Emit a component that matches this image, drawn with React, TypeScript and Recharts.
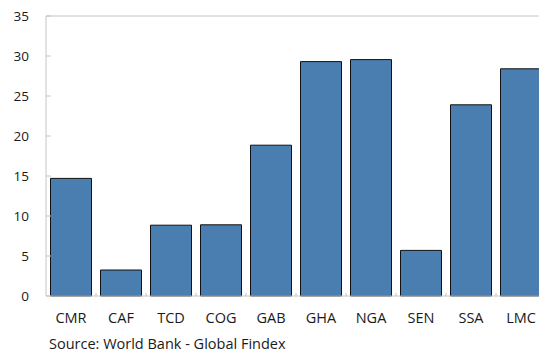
import React from 'react';
import { BarChart, Bar, XAxis, YAxis, ReferenceLine } from 'recharts';

const countries = ['CMR', 'CAF', 'TCD', 'COG', 'GAB', 'GHA', 'NGA', 'SEN', 'SSA', 'LMC'];
const shares = [14.7, 3.25, 8.85, 8.9, 18.85, 29.3, 29.55, 5.7, 23.9, 28.4];
const yTicks = [0, 5, 10, 15, 20, 25, 30, 35];

const data = countries.map((name, i) => ({ name, value: shares[i] }));

const FONT = '"Open Sans", sans-serif';
const AXIS_GRAY = '#c4c4c4';

// category label plus a short inward tick at the right edge of each band
const CountryTick = (props: any) => {
  const { x, y, payload } = props;
  const half = payload && payload.offset ? payload.offset : 25;
  return (
    <g>
      <line x1={x + half} x2={x + half} y1={y} y2={y - 3} stroke={AXIS_GRAY} />
      <text
        x={x}
        y={y + 23}
        textAnchor="middle"
        dominantBaseline="middle"
        fontSize={14.5}
        fontFamily={FONT}
        fill="#1a1a1a"
      >
        {payload.value}
      </text>
    </g>
  );
};

const App = () => {
  return (
    <div
      style={{
        position: 'fixed',
        left: 0,
        top: 0,
        width: 539,
        height: 353,
        overflow: 'hidden',
        background: '#fff',
      }}
    >
      <BarChart
        width={548}
        height={330}
        data={data}
        margin={{ top: 16, right: 2, left: 0, bottom: 0 }}
        barCategoryGap={4.5}
      >
        <XAxis
          dataKey="name"
          height={34}
          stroke={AXIS_GRAY}
          tickLine={false}
          tickSize={0}
          tickMargin={0}
          tick={<CountryTick />}
          interval={0}
        />
        <YAxis
          width={46}
          domain={[0, 35]}
          ticks={yTicks}
          stroke={AXIS_GRAY}
          tickSize={-5}
          tickMargin={22}
          tick={{ fill: '#1a1a1a', fontSize: 13.5, fontFamily: FONT }}
        />
        <ReferenceLine y={35} stroke={AXIS_GRAY} />
        <Bar dataKey="value" fill="#4a7eb0" stroke="#111" strokeWidth={1} isAnimationActive={false} />
      </BarChart>
      <div
        style={{
          position: 'absolute',
          left: 49,
          top: 336,
          fontFamily: FONT,
          fontSize: 14.5,
          lineHeight: '16px',
          color: '#1a1a1a',
          whiteSpace: 'nowrap',
        }}
      >
        Source: World Bank - Global Findex
      </div>
    </div>
  );
};

export default App;
